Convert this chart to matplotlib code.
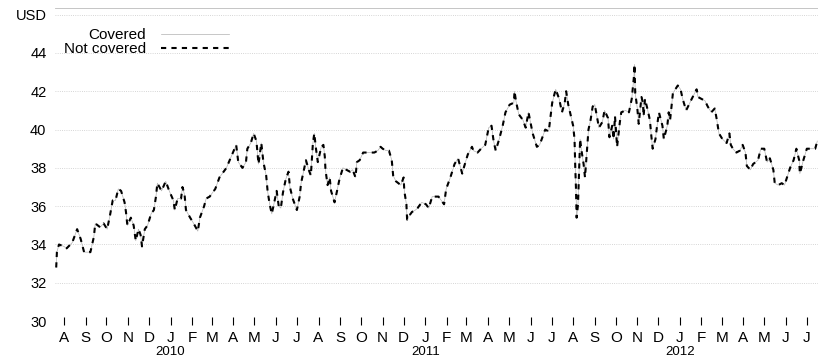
import matplotlib
matplotlib.use("Agg")
import matplotlib.pyplot as plt
import matplotlib.dates as mdates
import matplotlib.ticker as mticker
import pandas as pd

# price readings, USD
dates = [
    "2009-07-21", "2009-07-22", "2009-07-25", "2009-08-01", "2009-08-05", "2009-08-13",
    "2009-08-20", "2009-08-25", "2009-08-30", "2009-09-08", "2009-09-13", "2009-09-15",
    "2009-09-22", "2009-09-27", "2009-10-02", "2009-10-06", "2009-10-10", "2009-10-14",
    "2009-10-18", "2009-10-22", "2009-10-27", "2009-10-29", "2009-10-31", "2009-11-05",
    "2009-11-09", "2009-11-12", "2009-11-16", "2009-11-19", "2009-11-21", "2009-11-25",
    "2009-11-29", "2009-12-04", "2009-12-08", "2009-12-11", "2009-12-13", "2009-12-19",
    "2009-12-25", "2009-12-30", "2010-01-05", "2010-01-07", "2010-01-11", "2010-01-16",
    "2010-01-18", "2010-01-21", "2010-01-23", "2010-01-29", "2010-02-03", "2010-02-09",
    "2010-02-12", "2010-02-18", "2010-02-21", "2010-02-26", "2010-03-06", "2010-03-12",
    "2010-03-22", "2010-03-29", "2010-04-05", "2010-04-08", "2010-04-14", "2010-04-19",
    "2010-04-21", "2010-04-26", "2010-04-30", "2010-05-04", "2010-05-07", "2010-05-11",
    "2010-05-14", "2010-05-18", "2010-05-20", "2010-05-23", "2010-05-26", "2010-05-29",
    "2010-06-02", "2010-06-05", "2010-06-08", "2010-06-11", "2010-06-15", "2010-06-19",
    "2010-06-21", "2010-06-25", "2010-07-01", "2010-07-05", "2010-07-07", "2010-07-11",
    "2010-07-14", "2010-07-18", "2010-07-21", "2010-07-24", "2010-07-26", "2010-07-28",
    "2010-07-31", "2010-08-05", "2010-08-08", "2010-08-10", "2010-08-11", "2010-08-14",
    "2010-08-17", "2010-08-19", "2010-08-24", "2010-08-27", "2010-08-31", "2010-09-05",
    "2010-09-10", "2010-09-15", "2010-09-19", "2010-09-23", "2010-09-25", "2010-09-29",
    "2010-10-04", "2010-10-11", "2010-10-16", "2010-10-20", "2010-10-25", "2010-10-29",
    "2010-11-01", "2010-11-06", "2010-11-10", "2010-11-14", "2010-11-16", "2010-11-20",
    "2010-11-27", "2010-12-01", "2010-12-02", "2010-12-05", "2010-12-06", "2010-12-09",
    "2010-12-13", "2010-12-18", "2010-12-21", "2010-12-27", "2011-01-02", "2011-01-06",
    "2011-01-11", "2011-01-20", "2011-01-28", "2011-01-31", "2011-02-06", "2011-02-12",
    "2011-02-17", "2011-02-23", "2011-02-26", "2011-03-03", "2011-03-09", "2011-03-11",
    "2011-03-17", "2011-03-22", "2011-03-28", "2011-04-02", "2011-04-06", "2011-04-09",
    "2011-04-12", "2011-04-17", "2011-04-22", "2011-04-26", "2011-05-02", "2011-05-08",
    "2011-05-09", "2011-05-11", "2011-05-15", "2011-05-21", "2011-05-25", "2011-05-29",
    "2011-06-04", "2011-06-10", "2011-06-14", "2011-06-17", "2011-06-22", "2011-06-27",
    "2011-06-29", "2011-07-02", "2011-07-07", "2011-07-12", "2011-07-16", "2011-07-20",
    "2011-07-22", "2011-07-25", "2011-08-01", "2011-08-03", "2011-08-04", "2011-08-05",
    "2011-08-06", "2011-08-08", "2011-08-09", "2011-08-11", "2011-08-13", "2011-08-16",
    "2011-08-18", "2011-08-22", "2011-08-23", "2011-08-26", "2011-08-29", "2011-09-01",
    "2011-09-05", "2011-09-07", "2011-09-12", "2011-09-15", "2011-09-20", "2011-09-22",
    "2011-09-26", "2011-09-28", "2011-09-30", "2011-10-03", "2011-10-07", "2011-10-09",
    "2011-10-15", "2011-10-20", "2011-10-24", "2011-10-27", "2011-10-28", "2011-10-29",
    "2011-11-01", "2011-11-03", "2011-11-07", "2011-11-09", "2011-11-10", "2011-11-12",
    "2011-11-16", "2011-11-19", "2011-11-21", "2011-11-23", "2011-11-27", "2011-11-29",
    "2011-12-02", "2011-12-07", "2011-12-09", "2011-12-14", "2011-12-16", "2011-12-18",
    "2011-12-20", "2011-12-22", "2011-12-29", "2012-01-02", "2012-01-05", "2012-01-10",
    "2012-01-18", "2012-01-25", "2012-01-27", "2012-02-01", "2012-02-06", "2012-02-10",
    "2012-02-15", "2012-02-20", "2012-02-23", "2012-02-26", "2012-03-02", "2012-03-08",
    "2012-03-12", "2012-03-14", "2012-03-17", "2012-03-22", "2012-03-27", "2012-03-31",
    "2012-04-04", "2012-04-06", "2012-04-11", "2012-04-15", "2012-04-22", "2012-04-26",
    "2012-05-01", "2012-05-05", "2012-05-09", "2012-05-14", "2012-05-16", "2012-05-21",
    "2012-05-26", "2012-05-30", "2012-06-07", "2012-06-12", "2012-06-16", "2012-06-20",
    "2012-06-21", "2012-06-26", "2012-07-01", "2012-07-08", "2012-07-13", "2012-07-16",
]

not_covered = [
    32.8, 33.6, 34.0, 33.9, 33.8, 34.1,
    34.8, 34.3, 33.6, 33.6, 34.4, 35.1,
    34.9, 35.1, 34.8, 35.5, 36.3, 36.3,
    36.9, 36.8, 36.2, 35.7, 35.0, 35.4,
    35.0, 34.2, 34.8, 34.5, 33.9, 34.8,
    35.0, 35.6, 35.8, 36.5, 37.2, 36.8,
    37.3, 36.8, 36.3, 35.8, 36.4, 36.4,
    37.0, 36.6, 35.8, 35.4, 35.1, 34.7,
    35.4, 36.0, 36.4, 36.5, 36.9, 37.5,
    38.0, 38.6, 39.2, 38.3, 38.0, 38.3,
    39.0, 39.3, 39.8, 39.4, 38.2, 39.3,
    38.3, 37.6, 36.8, 36.1, 35.6, 36.1,
    36.8, 36.0, 35.9, 36.7, 37.4, 37.8,
    37.0, 36.4, 35.8, 36.5, 37.2, 37.9,
    38.4, 37.9, 37.6, 39.3, 39.8, 39.1,
    38.3, 39.1, 39.2, 38.6, 37.9, 37.1,
    37.5, 36.8, 36.2, 36.7, 37.4, 38.0,
    37.9, 37.8, 37.9, 37.5, 38.3, 38.4,
    38.8, 38.8, 38.8, 38.8, 38.9, 39.1,
    39.0, 38.9, 38.9, 38.4, 37.6, 37.3,
    37.1, 37.5, 36.8, 36.1, 35.3, 35.5,
    35.7, 35.8, 35.9, 36.2, 36.1, 35.9,
    36.5, 36.5, 36.1, 36.9, 37.5, 38.2,
    38.5, 37.7, 38.1, 38.7, 39.1, 38.9,
    38.8, 39.0, 39.2, 40.1, 40.2, 39.4,
    38.9, 39.5, 40.2, 40.9, 41.3, 41.4,
    42.0, 41.5, 40.8, 40.5, 40.1, 40.9,
    39.8, 39.1, 39.2, 39.5, 40.0, 39.9,
    40.5, 41.4, 42.1, 41.6, 40.9, 41.4,
    42.0, 41.3, 40.2, 39.5, 38.1, 37.0,
    35.4, 36.1, 37.2, 39.5, 38.9, 38.2,
    37.5, 39.5, 40.0, 40.5, 41.2, 41.3,
    40.5, 40.1, 40.4, 41.0, 40.6, 39.6,
    40.2, 39.5, 40.7, 39.1, 40.4, 40.9,
    41.0, 40.9, 41.6, 42.7, 43.4, 41.9,
    41.1, 40.3, 41.7, 41.4, 40.7, 41.6,
    41.0, 40.5, 39.7, 39.0, 39.5, 40.1,
    40.9, 40.2, 39.5, 40.2, 40.9, 40.5,
    41.2, 41.9, 42.3, 42.1, 41.6, 41.0,
    41.6, 42.1, 41.7, 41.6, 41.5, 41.2,
    40.9, 41.1, 40.5, 39.8, 39.5, 39.3,
    39.8, 39.2, 39.0, 38.8, 38.9, 39.2,
    38.8, 38.1, 37.9, 38.2, 38.4, 39.0,
    39.0, 38.3, 38.5, 37.9, 37.2, 37.1,
    37.2, 37.1, 38.0, 38.4, 39.0, 38.4,
    37.7, 38.4, 39.0, 39.0, 39.0, 39.4,
]
covered = list(not_covered)

y_ticks = [30, 32, 34, 36, 38, 40, 42, 44, 46]
y_tick_labels = ["30", "32", "34", "36", "38", "40", "42", "44", "USD"]
years = [2010, 2011, 2012]

FONT = ["Liberation Sans Narrow", "Liberation Sans", "DejaVu Sans"]
plt.rcParams["font.family"] = FONT

x = pd.to_datetime(dates)

fig = plt.figure(figsize=(8.18, 3.6), dpi=100)
ax = fig.add_axes([0.067, 0.108, 0.933, 0.87])

ax.plot(x, covered, color="#b0b0b0", lw=0.5, label="Covered")
ax.plot(x, not_covered, color="black", lw=1.5, linestyle=(0, (2.5, 2.5)),
        label="Not covered")

ax.set_xlim(pd.Timestamp("2009-07-19"), pd.Timestamp("2012-07-17"))
ax.set_ylim(30, 46.35)

ax.set_yticks(y_ticks)
ax.set_yticklabels(y_tick_labels)
ax.tick_params(axis="y", length=0, pad=6, labelsize=10.5)

ax.xaxis.set_major_locator(mdates.MonthLocator())
ax.xaxis.set_major_formatter(
    mticker.FuncFormatter(lambda v, _: mdates.num2date(v).strftime("%b")[0]))
ax.tick_params(axis="x", direction="inout", length=6, width=0.8, pad=4,
               labelsize=11)

for yr in years:
    ax.text(pd.Timestamp(f"{yr}-01-01"), -0.1, str(yr), ha="center", va="center",
            fontsize=9.5, transform=ax.get_xaxis_transform())

ax.grid(axis="y", color="#c8c8c8", linestyle=":", lw=0.6)
for side in ["left", "right", "bottom"]:
    ax.spines[side].set_visible(False)
ax.spines["top"].set_color("#bbbbbb")
ax.spines["top"].set_linewidth(0.6)

ax.legend(loc="upper left", bbox_to_anchor=(0.012, 0.935), frameon=False,
          markerfirst=False, fontsize=11, handlelength=4.4, handletextpad=1.0,
          labelspacing=0.0, borderpad=0, borderaxespad=0)

fig.savefig("out.png", dpi=100)
